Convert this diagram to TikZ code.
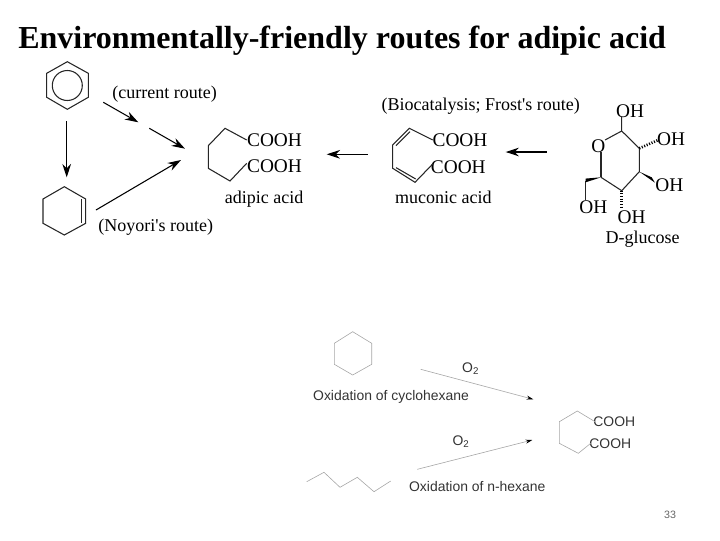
\documentclass[tikz,border=0pt]{standalone}
\usepackage{fontspec}
\setmainfont[Ligatures=TeXOff]{Liberation Serif}
\setsansfont{Liberation Sans}
\usetikzlibrary{arrows.meta}
\tikzset{
    bond/.style={line width=0.8pt, black!85},
    palebond/.style={line width=0.45pt, black!35},
    reaction/.style={line width=0.8pt, black, -{Stealth[length=10pt,width=6.5pt]}},
    palearrow/.style={line width=0.45pt, black!35, -{Stealth[length=5pt,width=3pt,black]}},
    chem/.style={inner sep=0pt, font=\fontsize{14.5}{16}\selectfont, text=black},
    chemlabel/.style={inner sep=0pt, font=\fontsize{13.5}{16}\selectfont, text=black},
    ox/.style={inner sep=0pt, font=\sffamily\fontsize{10.45}{12}\selectfont, text=black!80}
}
\begin{document}
\begin{tikzpicture}[x=0.75pt,y=-0.75pt]
        \useasboundingbox (0,0) rectangle (720,540);
        \node[inner sep=0pt, anchor=west, font=\bfseries\fontsize{24}{27}\selectfont] (title) at (18,41) {Environmentally-friendly routes for adipic acid};
        \foreach \x/\y/\n in {67.3/61.7/ba,88.3/73.3/bb,88.3/97.3/bc,67.3/109.3/bd,46.7/97.3/be,46.7/73.3/bf,
            64.3/186.7/ca,85.7/199/cb,85.7/223.3/cc,64.3/235/cd,43/223.3/ce,43/199/cf,
            225/128.3/aa,208.3/145.7/ab,208.3/168.3/ac,230/181/ad,246.7/163.3/ae,246.7/140/af,
            409.3/128.3/ma,392.7/145/mb,392.7/168.3/mc,415/182.3/md,432.7/164/me,432.7/140/mf,
            621.7/131/ga,639.3/148.3/gb,639.3/171.7/gc,621.7/190.7/gd,601/177.3/ge,601/151.7/gf,605/140/gg,
            621.7/116.7/gh,658.3/140/gi,653.3/180/gj,621.7/208/gk,585.7/180.7/gl,585.7/200/gm,
            352.7/331.7/xa,371.7/343.3/xb,371.7/364.3/xc,352.7/375/xd,334.3/364.3/xe,334.3/343.3/xf,
            306.7/481.7/ha,324/472.3/hb,340/487.3/hc,357.3/477.3/hd,374/491.7/he,390.7/481/hf,
            577.3/411/pa,559.3/421.7/pb,559.3/443.3/pc,578.3/453.3/pd,590.7/443.3/pe,595/421.7/pf,
            66.7/121/s1,66.7/177.3/e1,103.3/102.3/s2,138.3/122.3/e2,149.3/128.3/s3,185/148.7/e3,
            96/210/s4,181/160/e4,367.7/154.3/s5,326.7/154.3/e5,546.7/152/s6,505.7/152/e6,
            420.7/369.3/s7,533.3/399.3/e7,417.3/469.3/s8,532.3/440/e8}{
            \coordinate (\n) at (\x,\y);
        }
        \foreach \x/\y/\n/\l in {274.5/140/cooha/COOH,274.5/166/coohb/COOH,460/140/coohc/COOH,458.3/166.7/coohd/COOH,
            630/110.7/oha/OH,671/139/ohb/OH,669.3/185/ohc/OH,631.7/217.3/ohd/OH,593.3/207.3/ohe/OH,598.3/146/ring/O}{
            \node[chem] (\n) at (\x,\y) {\l};
        }
        \foreach \x/\y/\n/\l in {164.7/94/current/(current route),155.7/227.5/noyori/(Noyori's route),264/199.5/adipic/adipic acid,
            443.3/197/muconic/muconic acid,480.7/106.5/frost/(Biocatalysis; Frost's route),642.7/239/glucose/D-glucose}{
            \node[chemlabel] (\n) at (\x,\y) {\l};
        }
        \foreach \x/\y/\n/\l in {470.7/368.3/oa/O\textsubscript{2},461/441.7/ob/O\textsubscript{2},391/396.7/oxa/Oxidation of cyclohexane,
            477.3/486.7/oxb/Oxidation of n-hexane,614.3/421.7/coohe/COOH,610.3/444/coohf/COOH}{
            \node[ox] (\n) at (\x,\y) {\l};
        }
        \node[inner sep=0pt, font=\sffamily\fontsize{8}{10}\selectfont, text=black!60] (page) at (670,515) {33};
        \draw[bond] (ba) -- (bb) -- (bc) -- (bd) -- (be) -- (bf) -- cycle;
        \node[draw=black!85, line width=0.8pt, circle, minimum size=22.5pt, inner sep=0pt] (benzring) at (67.3,85.5) {};
        \draw[bond] (ca) -- (cb) -- (cc) -- (cd) -- (ce) -- (cf) -- cycle;
        \draw[bond] ([xshift=-3pt]cb) -- ([xshift=-3pt]cc);
        \draw[bond] (af) -- (aa) -- (ab) -- (ac) -- (ad) -- (ae);
        \draw[bond] (mf) -- (ma) -- (mb) -- (mc) -- (md) -- (me);
        \draw[bond] ([xshift=0.5pt,yshift=-2.5pt]ma) -- ([xshift=2.5pt,yshift=-0.5pt]mb);
        \draw[bond] ([xshift=2.5pt,yshift=0.5pt]mc) -- ([xshift=0.5pt,yshift=2.5pt]md);
        \draw[bond] (gh) -- (ga) -- (gb) -- (gc) -- (gd) -- (ge);
        \draw[bond] (ga) -- (gg);
        \draw[bond, line width=1.1pt] (ge) -- (gf);
        \draw[bond] (gl) -- (gm);
        \fill[black] (ge) -- ([yshift=1.6pt]gl) -- ([yshift=-1.2pt]gl) -- cycle;
        \fill[black] (gc) -- ([xshift=1.2pt,yshift=-2pt]gj) -- ([xshift=-1.2pt,yshift=2pt]gj) -- cycle;
        \draw[black, line width=2pt, dash pattern=on 0.8pt off 1.2pt] (gb) -- (gi);
        \draw[black, line width=2pt, dash pattern=on 0.8pt off 1.2pt] (gd) -- (gk);
        \draw[palebond] (xa) -- (xb) -- (xc) -- (xd) -- (xe) -- (xf) -- cycle;
        \draw[palebond] (ha) -- (hb) -- (hc) -- (hd) -- (he) -- (hf);
        \draw[palebond] (pf) -- (pa) -- (pb) -- (pc) -- (pd) -- (pe);
        \foreach \m/\n in {s1/e1,s2/e2,s3/e3,s4/e4,s5/e5,s6/e6}{
            \draw[reaction] (\m) -- (\n);
        }
        \foreach \m/\n in {s7/e7,s8/e8}{
            \draw[palearrow] (\m) -- (\n);
        }
    \end{tikzpicture}
\end{document}
